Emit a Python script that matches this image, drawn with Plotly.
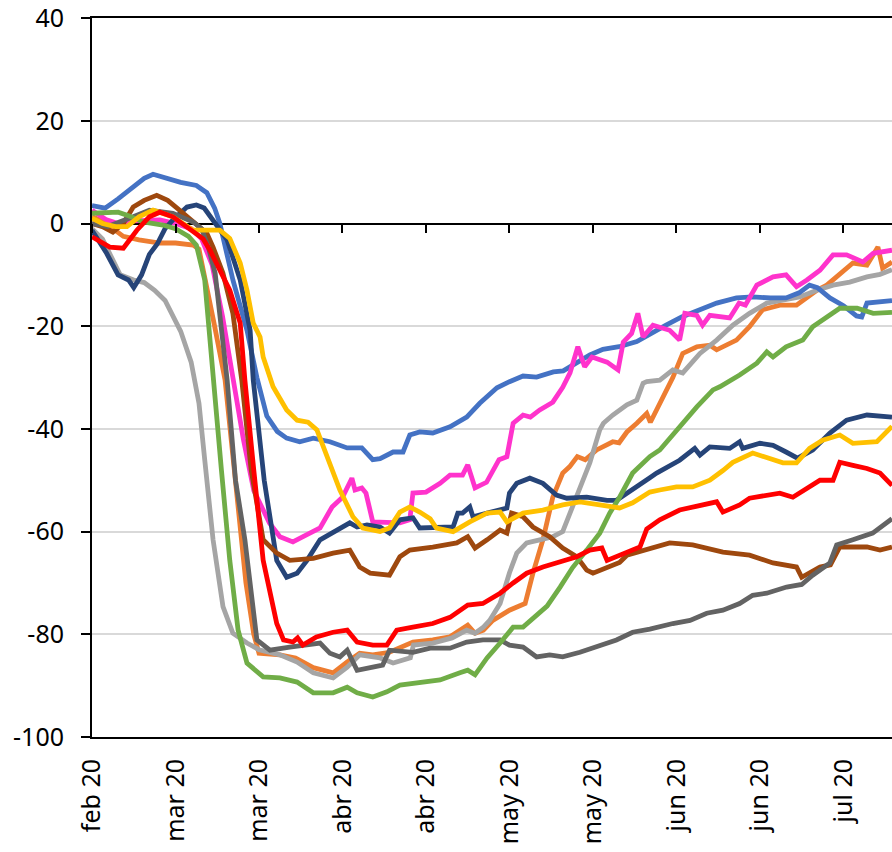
import plotly.graph_objects as go

# ---- axis labels ----
tick_days = [0, 16, 32, 48, 64, 80, 96, 112, 128, 144]
tick_labels = ["feb 20", "mar 20", "mar 20", "abr 20", "abr 20",
               "may 20", "may 20", "jun 20", "jun 20", "jul 20"]
y_ticks = [-100, -80, -60, -40, -20, 0, 20, 40]
y_labels = ["-100", "-80", "-60", "-40", "-20", "0", "20", "40"]

# ---- series (day index, value) ----
blue_days = [0, 2.5, 5, 8, 10, 11.7, 14, 17, 20, 22, 23.5, 24.5, 27, 29.7, 31.6, 33.5, 35.5, 37.3, 39.8, 42.4,
             45.6, 48.9, 51.7, 53.8, 55.2, 57.7, 59.6, 60.9, 62.8, 65.3, 68.6, 71.8, 74.3, 77.6, 80, 82.6, 85.2,
             88.4, 90.3, 92.9, 95.4, 97.9, 101, 104.4, 107, 110, 113, 116.5, 119.7, 123.5, 126.6, 130, 133,
             135.5, 137.5, 139, 141.4, 144, 146.5, 147.5, 148.5, 153.3]
blue_vals = [3.5, 3.0, 4.8, 7.2, 8.8, 9.6, 8.8, 8.0, 7.4, 6.0, 3.0, 0, -11, -20.8, -30, -37.5, -40.5, -41.8, -42.5,
             -41.8, -42.5, -43.7, -43.7, -46, -45.8, -44.5, -44.5, -41.2, -40.6, -40.8, -39.6, -37.7, -35, -32,
             -30.8, -29.7, -29.9, -28.9, -28.7, -27.2, -25.6, -24.5, -24, -23, -21.4, -19.8, -18.2, -16.8, -15.5,
             -14.5, -14.3, -14.5, -14.5, -13.5, -12, -12.5, -14.5, -16, -18, -18.2, -15.5, -15]

orange_days = [0, 2, 4, 6, 9, 13, 16, 19.4, 20.5, 22, 23.5, 25.5, 27.5, 29.5, 31, 32, 36, 39, 42.4, 46.2, 48.9,
               51.3, 53.8, 57, 61.5, 65.3, 68.6, 72, 73.4, 75, 76.8, 80, 83, 84.5, 86.4, 88.3, 90.2, 91.5, 93,
               94.5, 96.7, 99.8, 101, 102.5, 104.4, 106.3, 107, 108.8, 111.3, 113.2, 115.9, 118.4, 119.7, 123.5,
               126, 128.5, 131.8, 135, 138.9, 140.8, 143.3, 145.8, 148.5, 150.6, 151.5, 153.3]
orange_vals = [1.3, 0.5, -1, -2.5, -3.2, -3.8, -3.8, -4.2, -5, -12, -20, -30.5, -50, -70, -80, -83.7, -84, -84.6,
               -86.5, -87.5, -85.4, -83.7, -84, -83.5, -81.5, -81.1, -80.5, -78.2, -79.8, -79.2, -77.3, -75.3, -74,
               -68.1, -61.6, -53.3, -48.6, -47.4, -45.4, -46, -44.1, -42.5, -42.7, -40.6, -38.9, -37, -38.7, -35,
               -30, -25.3, -24, -23.7, -24.6, -22.7, -20.1, -16.8, -15.9, -15.9, -13, -12, -9.7, -7.7, -8.1,
               -4.6, -8.7, -7.5]

gray_days = [0, 2, 5.4, 8, 10, 12, 14, 17, 19, 20.5, 21.6, 23.2, 25.1, 27, 29.7, 32, 36, 39.3, 42.4, 46.2, 48.9,
             51.3, 55.2, 57.7, 61, 61.6, 65.3, 69, 71.8, 73.4, 75, 76.2, 78.2, 80, 81.4, 83.3, 85.8, 88.3, 90.2,
             91.6, 93.5, 95.4, 97.3, 98, 99.8, 102.5, 104.4, 105.6, 106.3, 108.8, 111.3, 113.2, 116.5, 119.7,
             122.8, 126, 129.3, 132.4, 135.6, 138.9, 142, 145.2, 148.5, 151, 153.3]
gray_vals = [-1, -3, -10, -11, -11.5, -13, -15, -21, -27, -35, -46, -61.6, -74.6, -79.8, -81.7, -83, -84, -85.4,
             -87.5, -88.5, -86.4, -84, -84.6, -85.6, -84.6, -82.1, -81.7, -80.7, -79.2, -79.8, -78.6, -77.3, -74,
             -68, -64.2, -62.2, -61.6, -61, -60, -56.4, -51.9, -46.6, -40.2, -38.9, -37.3, -35.3, -34.4, -31.1,
             -30.8, -30.5, -28.5, -29.1, -25.3, -22.7, -19.8, -17.5, -15.5, -15, -14.3, -13, -12, -11.4, -10.4,
             -9.9, -9]

green_days = [0, 3, 5, 7, 9.8, 13.6, 16, 18.5, 20, 21.6, 23.2, 24.8, 26.4, 28, 29.7, 32.8, 36, 39.3, 42.4, 46.2,
              48.9, 50.8, 53.8, 56.5, 59, 62.8, 66.7, 70.5, 72, 73.4, 75.7, 78.2, 80.7, 82.6, 84.5, 87.2, 89.7,
              92.1, 94.8, 97.3, 99.2, 101.1, 103.6, 106.9, 108.8, 112.6, 115.9, 119, 120.3, 124.1, 127.4, 129.3,
              130.5, 133, 136.2, 138.1, 140.8, 143.3, 146.6, 149.7, 153.3]
green_vals = [2, 2, 2.2, 1.5, 0.3, -0.3, -1, -2.5, -4.2, -11, -30.5, -48, -65.6, -79.2, -85.6, -88.3, -88.5, -89.3,
              -91.4, -91.4, -90.3, -91.4, -92.2, -91.2, -89.9, -89.5, -88.9, -87.5, -87, -87.9, -84.6, -81.7,
              -78.6, -78.6, -76.9, -74.5, -70.8, -67, -63.6, -60.3, -56.4, -53.3, -48.6, -45.4, -44.1, -39.6,
              -35.7, -32.4, -31.8, -29.5, -27.2, -25, -26, -24, -22.7, -20.1, -18.2, -16.5, -16.5, -17.5, -17.3]

navy_days = [0, 2.8, 5, 7, 8, 9.5, 11, 12.5, 14, 15.5, 18.2, 20, 21.5, 23.2, 25.9, 28.4, 30.3, 30.9, 33, 35.4,
             37.3, 39.3, 41.2, 43.7, 46.9, 49.4, 50.8, 52.7, 55.2, 57, 59, 61.5, 62.8, 66, 69.2, 70.1, 71, 72.4,
             73, 75.7, 79.5, 80, 81.4, 83.9, 86.4, 89, 91, 94.8, 98.7, 100.5, 103.6, 105, 106.9, 108.2, 112.6,
             115.5, 116.5, 118.4, 122.2, 124.1, 124.7, 128, 130.5, 133, 135.2, 138.1, 141.4, 144.6, 148.5, 153.3]
navy_vals = [-1.3, -5.8, -10, -11, -12.5, -10, -6, -4, -1, 0.7, 3.2, 3.6, 3, 0.7, -3.2, -11, -20.8, -30.5, -50,
             -65.6, -68.9, -68.1, -65.6, -61.6, -59.7, -58.3, -59.1, -58.7, -59.1, -60.3, -57.7, -57.3, -59.3,
             -59.3, -59.1, -56.4, -56.4, -55.2, -57.1, -56.4, -55.4, -52.5, -50.6, -49.6, -50.6, -52.9, -53.5,
             -53.3, -53.9, -53.9, -51.9, -51, -49.5, -48.6, -46.1, -43.8, -45.1, -43.5, -43.8, -42.5, -43.8,
             -42.8, -43.2, -44.5, -45.7, -44.1, -40.8, -38.3, -37.3, -37.7]

yellow_days = [0, 2, 4.5, 6.7, 9, 11.7, 15.5, 19.4, 23.2, 24.5, 26.4, 28.4, 29.7, 30.9, 32.2, 32.8, 34.7, 37.3,
               39.3, 41.4, 43.1, 45, 47.5, 50, 51.9, 55.2, 57, 59, 60.9, 62.8, 64.8, 66, 69.2, 72.4, 75.7, 78.2,
               79.5, 82.6, 86.4, 90.2, 93.5, 97.3, 101.1, 103.6, 106.9, 108.8, 112, 115.1, 118.4, 120.9, 122.8,
               126.6, 129.3, 132.4, 135, 137.5, 140, 143.3, 145.8, 150.4, 153.3]
yellow_vals = [1, 0, -0.6, -0.6, 1.3, 2.6, 1.3, -1.3, -1.3, -1.3, -2.9, -7.7, -13, -19.4, -22.1, -26, -31.8,
               -36.3, -38.3, -38.7, -40.2, -45.4, -51.9, -57.1, -59.3, -60, -59.3, -56.2, -55.2, -56.2, -57.5,
               -59.3, -60, -58.1, -56.4, -56.2, -58.1, -56.4, -55.8, -54.8, -54.2, -54.8, -55.4, -54.4, -52.3,
               -51.9, -51.3, -51.3, -50, -48.1, -46.5, -44.7, -45.7, -46.6, -46.6, -43.8, -42.2, -41.2, -42.8,
               -42.5, -39.5]

brown_days = [0, 2, 4, 6, 7.9, 10, 12.4, 14.5, 16.3, 19.4, 22, 23.2, 25.1, 27, 28.7, 30.5, 32.8, 35.4, 37.9,
              42.4, 46.2, 49.4, 51.3, 53.3, 57, 59, 60.9, 65.3, 69.9, 72, 73.4, 75.7, 78.2, 79.5, 80.4, 82.6,
              84.5, 87.7, 90.2, 92.9, 94.8, 96, 98.7, 101.1, 102.5, 106.9, 110.7, 115.1, 120.9, 126, 130.5, 135,
              136, 139.5, 141.5, 143.3, 148.5, 151, 153.3]
brown_vals = [0, -0.6, -1.7, 0, 3.2, 4.5, 5.5, 4.5, 3, 0.3, -1.9, -4.6, -9.7, -17.5, -30.5, -48, -61.6, -64.2,
              -65.6, -65.2, -64.2, -63.6, -66.9, -68.1, -68.5, -64.9, -63.6, -63, -62.2, -61, -63.2, -61.6,
              -59.7, -60.3, -56.4, -57.1, -59.1, -61, -63.2, -64.9, -67.5, -68.1, -66.9, -66, -64.6, -63.2,
              -62.2, -62.6, -64, -64.6, -66.1, -66.9, -68.9, -66.9, -66.5, -63, -63, -63.6, -63]

dgray_days = [0, 3, 7.9, 11, 15.5, 19.4, 21, 22.4, 23.6, 25.9, 27.5, 29.3, 31.6, 34.1, 37.9, 43.7, 45.6, 47.5,
              48.9, 50.8, 53.8, 55.7, 57, 61.5, 64.8, 68.6, 71.8, 74.9, 78.2, 80, 82.6, 85.2, 87.7, 90.2, 93.5,
              97.3, 100.5, 103.6, 106.9, 111.3, 114.6, 117.8, 120.9, 124.1, 126.6, 129.3, 133.1, 136, 138.1,
              141.4, 142.7, 145.8, 149.6, 153.3]
dgray_vals = [0, -0.6, 1.3, 2.6, 2, 0.3, -1, -5, -9.7, -30.5, -50, -61.6, -81.1, -83.1, -82.5, -81.7, -83.7,
              -84.4, -83.1, -87, -86.4, -86, -83.1, -83.5, -82.7, -82.7, -81.5, -81.1, -81.1, -82.1, -82.5, -84.4,
              -84, -84.4, -83.5, -82.1, -81.1, -79.6, -79, -77.9, -77.3, -75.9, -75.3, -74, -72.4, -72, -70.8,
              -70.3, -68.5, -66.1, -62.6, -61.6, -60.3, -57.5]

magenta_days = [0, 2.8, 5, 8, 13, 16, 19, 21, 23, 25, 27, 29, 31, 34, 36, 38.5, 41, 43.7, 46, 48, 49.8, 50.4,
                51.7, 52.5, 53.8, 56.5, 59, 60.9, 61.5, 64, 66.7, 68.6, 71, 72, 73.4, 75.6, 78, 79.5, 80.4, 80.7,
                82.6, 84, 85.8, 88.3, 90.2, 91.6, 93.1, 94.4, 95.8, 98.7, 100.8, 101.8, 103.4, 104.6, 105.6,
                107.5, 110.7, 112.6, 113.6, 115.9, 117, 118.4, 122.2, 124, 125.2, 127.4, 130.5, 133, 135, 137,
                139.5, 142, 144.6, 147.7, 149.7, 153.3]
magenta_vals = [2.6, 0.7, 0, 0.5, 0.7, 0, -1, -3, -8, -18, -30, -42, -52, -58.3, -61, -62, -60.7, -59.3, -55.2,
                -53.3, -49.6, -51.9, -51.5, -52.5, -58.1, -58.3, -58.3, -57.7, -52.5, -52.3, -50.6, -49, -49, -47,
                -51.5, -50.4, -46, -45.4, -40.2, -38.9, -37.3, -37.7, -36.3, -34.8, -31.9, -29.1, -24, -27.9, -26,
                -27, -28.5, -23.1, -21.4, -17.5, -22.1, -19.8, -20.8, -22.7, -17.5, -17.9, -19.8, -17.9, -18.4,
                -15.5, -15.9, -12, -10.4, -10, -12.3, -11, -9.1, -6.1, -6.1, -7.5, -5.8, -5.2]

red_days = [0, 3.4, 6, 8.6, 11, 13, 15.5, 18.2, 21.3, 22.6, 24.5, 26.4, 28.4, 29.3, 31, 32.8, 35.4, 36.7, 38.5,
            39.4, 40.4, 43, 46.2, 48.9, 50.8, 53.8, 56.5, 58.4, 61.5, 65.3, 68.6, 72, 74.9, 78.2, 80.7, 83.3,
            86.4, 89.7, 92.9, 95.4, 97.7, 98.7, 101.1, 103, 105, 106.3, 108.8, 112.6, 116.5, 119.7, 120.9, 124.1,
            126, 129.3, 131.8, 134.3, 137, 139.5, 142, 143.3, 145.8, 148.5, 151, 153.3]
red_vals = [-2.6, -4.6, -4.8, -1.3, 1.3, 2.2, 1.3, -0.6, -3, -5.2, -9.1, -13, -19.4, -30.5, -48, -65.6, -77.9,
            -81.1, -81.5, -80.7, -82.1, -80.5, -79.6, -79.2, -81.5, -82.1, -82.1, -79.2, -78.6, -77.9, -76.7,
            -74.3, -74, -72, -70, -68.1, -66.9, -66, -64.9, -63.6, -63.2, -65.6, -64.6, -63.6, -63, -59.5, -57.7,
            -55.8, -54.8, -54.2, -56.2, -54.8, -53.5, -52.9, -52.5, -53.3, -51.5, -50, -50, -46.5, -47.1, -47.7,
            -48.6, -51]

series = [
    ("Serie 2", orange_days, orange_vals, "#ED7D31"),
    ("Serie 3", gray_days, gray_vals, "#A5A5A5"),
    ("Serie 1", blue_days, blue_vals, "#4472C4"),
    ("Serie 9", magenta_days, magenta_vals, "#FF33CC"),
    ("Serie 5", navy_days, navy_vals, "#264478"),
    ("Serie 7", brown_days, brown_vals, "#9E480E"),
    ("Serie 8", dgray_days, dgray_vals, "#636363"),
    ("Serie 6", green_days, green_vals, "#70AD47"),
    ("Serie 4", yellow_days, yellow_vals, "#FFC000"),
    ("Serie 10", red_days, red_vals, "#FF0000"),
]

fig = go.Figure()
for i, (name, d, v, c) in enumerate(series):
    on_top = (i == len(series) - 1)
    fig.add_trace(go.Scatter(x=d, y=v, mode="lines", name=name,
                             xaxis="x2" if on_top else "x",
                             line=dict(color=c, width=4.8), hoverinfo="skip"))

font = dict(family="Noto Sans", size=25, color="black")
x_range = [0, 153.3]

fig.update_layout(
    width=892, height=852,
    margin=dict(l=92, r=0, t=18, b=115),
    paper_bgcolor="white", plot_bgcolor="white",
    showlegend=False,
    xaxis=dict(range=x_range, tickmode="array", tickvals=tick_days, ticktext=tick_labels,
               tickangle=-90, ticks="", showline=True, mirror=True, linecolor="black", linewidth=2,
               showgrid=False, zeroline=False, automargin=False, tickfont=font,
               ticklabelstandoff=10, ticklabeloverflow="allow"),
    xaxis2=dict(range=x_range, overlaying="x", anchor="free", position=100 / 140, side="bottom",
                tickmode="array", tickvals=tick_days, ticks="outside", ticklen=9, tickwidth=2,
                tickcolor="black", showticklabels=False, showline=False, showgrid=False,
                zeroline=False, automargin=False),
    yaxis=dict(range=[-100, 40.02], tickmode="array", tickvals=y_ticks, ticktext=y_labels,
               ticks="outside", ticklen=9,
               tickwidth=2, tickcolor="black", showline=True, linecolor="black", linewidth=2,
               gridcolor="#D9D9D9", gridwidth=1.6, zeroline=True, zerolinecolor="black",
               zerolinewidth=2, automargin=False, tickfont=font, ticklabelstandoff=12,
               ticklabeloverflow="allow"),
)

fig.write_html("out.html", config={"displayModeBar": False},
               post_script="document.body.style.margin='0';")
